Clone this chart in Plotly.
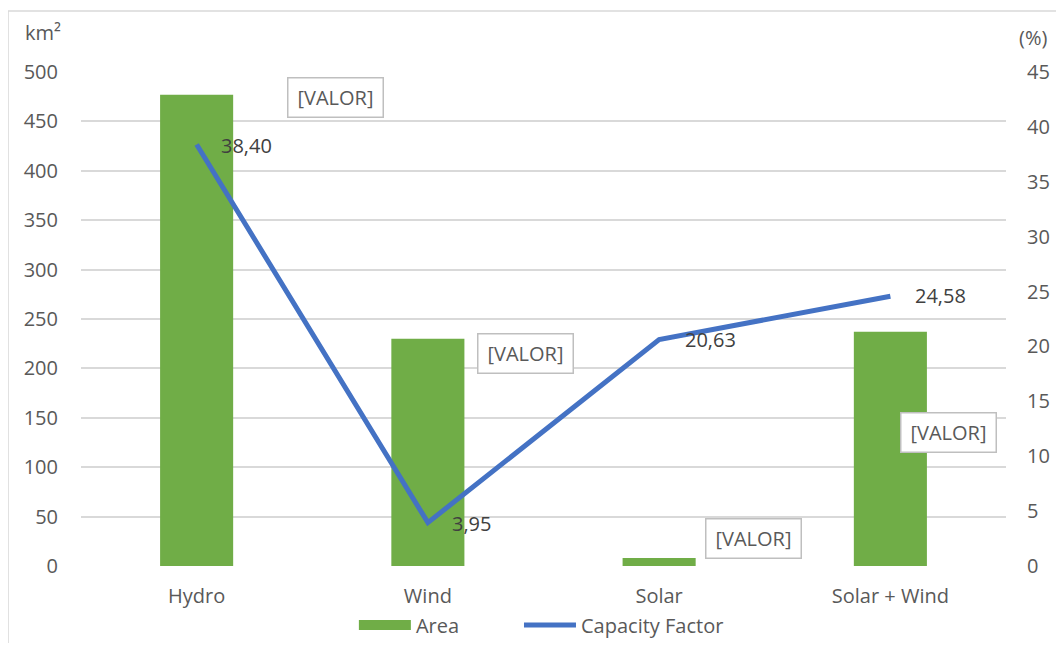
import plotly.graph_objects as go

categories = ["Hydro", "Wind", "Solar", "Solar + Wind"]
area_km2 = [477, 230, 8, 237]
capacity_factor = [38.40, 3.95, 20.63, 24.58]
cf_labels = ["38,40", "3,95", "20,63", "24,58"]
area_labels = ["[VALOR]", "[VALOR]", "[VALOR]", "[VALOR]"]

FONT = "Open Sans"
GREY = "#595959"
FS = 20

fig = go.Figure()
fig.add_trace(go.Bar(x=categories, y=area_km2, name="Area", showlegend=False,
                     marker=dict(color="#70ad47", line=dict(width=0)), yaxis="y"))
# legend swatch for the bars (wide rectangle as in the reference)
fig.add_trace(go.Scatter(x=[None], y=[None], name="Area", mode="lines", legend="legend",
                         line=dict(color="#70ad47", width=14), yaxis="y"))
fig.add_trace(go.Scatter(x=categories, y=capacity_factor, name="Capacity Factor",
                         mode="lines", line=dict(color="#4472c4", width=5), yaxis="y2",
                         legend="legend2"))

# Bar labels (boxed placeholders)
bar_shift = [(139, -3), (98, -15), (94, 20), (58, -101)]
for i, (lab, v) in enumerate(zip(area_labels, area_km2)):
    dx, dy = bar_shift[i]
    fig.add_annotation(x=i, y=v, xref="x", yref="y", text=lab, showarrow=False,
                       xshift=dx, yshift=dy, width=82, height=26,
                       font=dict(family=FONT, size=FS, color=GREY),
                       bordercolor="#bfbfbf", borderwidth=1.5, borderpad=6, bgcolor="white")

# Line labels
cf_shift = [(50, -1), (44, -1), (51, 0), (50, 1)]
for i, (lab, v) in enumerate(zip(cf_labels, capacity_factor)):
    dx, dy = cf_shift[i]
    fig.add_annotation(x=i, y=v, xref="x", yref="y2", text=lab, showarrow=False,
                       xshift=dx, yshift=dy, font=dict(family=FONT, size=FS, color="#404040"))

# Axis unit labels
fig.add_annotation(x=-0.041, y=1.079, xref="paper", yref="paper", text="km²", showarrow=False,
                   xanchor="center", yanchor="middle", font=dict(family=FONT, size=FS, color=GREY))
fig.add_annotation(x=1.029, y=1.069, xref="paper", yref="paper", text="(%)", showarrow=False,
                   xanchor="center", yanchor="middle", font=dict(family=FONT, size=FS, color=GREY))

# Chart border
fig.add_shape(type="rect", xref="paper", yref="paper", x0=-0.0789, y0=-0.3, x1=1.2, y1=1.1235,
              line=dict(color="#d9d9d9", width=1.5), layer="below")

legend_common = dict(orientation="h", yanchor="top", y=-0.08, xanchor="left",
                     font=dict(family=FONT, size=FS, color=GREY), itemwidth=52,
                     bgcolor="rgba(0,0,0,0)")

fig.update_layout(
    width=1048, height=635,
    margin=dict(l=73, r=50, t=64, b=77, autoexpand=False),
    paper_bgcolor="white", plot_bgcolor="white",
    font=dict(family=FONT, size=FS, color=GREY),
    bargap=0.684,
    showlegend=True,
    legend=dict(x=0.295, **legend_common),
    legend2=dict(x=0.4735, **legend_common),
    xaxis=dict(showgrid=False, showline=False, zeroline=False, ticks="",
               ticklabelstandoff=16, tickfont=dict(family=FONT, size=FS, color=GREY)),
    yaxis=dict(range=[0, 500], dtick=50, showgrid=True, gridcolor="#d9d9d9", gridwidth=1.5,
               zeroline=False, showline=False, ticks="", ticklabelstandoff=22,
               tickfont=dict(family=FONT, size=FS, color=GREY)),
    yaxis2=dict(range=[0, 45], dtick=5, overlaying="y", side="right", showgrid=False,
                zeroline=False, showline=False, ticks="", ticklabelstandoff=20,
                tickfont=dict(family=FONT, size=FS, color=GREY)),
)

fig.write_html("out.html")
